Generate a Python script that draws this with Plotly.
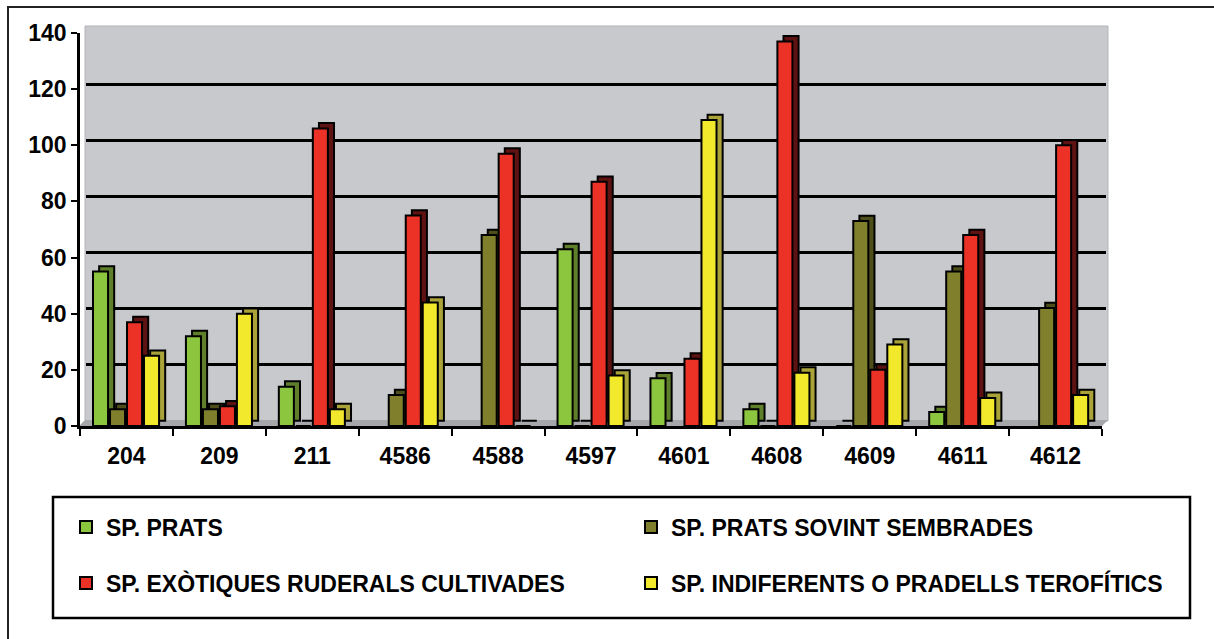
import plotly.graph_objects as go

# ---------------- data ----------------
categories = ["204", "209", "211", "4586", "4588", "4597", "4601", "4608", "4609", "4611", "4612"]
sp_prats = [55, 32, 14, None, None, 63, 17, 6, 0, 5, None]
sp_prats_sovint = [6, 6, 0, 11, 68, 0, None, 0, 73, 55, 42]
sp_exotiques = [37, 7, 106, 75, 97, 87, 24, 137, 20, 68, 100]
sp_indiferents = [25, 40, 6, 44, 0, 18, 109, 19, 29, 10, 11]

series_names = [
    "SP. PRATS",
    "SP. PRATS SOVINT SEMBRADES",
    "SP. EXÒTIQUES RUDERALS CULTIVADES",
    "SP. INDIFERENTS O PRADELLS TEROFÍTICS",
]
series_values = [sp_prats, sp_prats_sovint, sp_exotiques, sp_indiferents]
front_colors = ["#8cc63f", "#7f7f2c", "#ec3127", "#f2e82c"]
side_colors = ["#5f7f2a", "#4e4e1a", "#5e1212", "#a9a33a"]
y_ticks = [0, 20, 40, 60, 80, 100, 120, 140]
grid_vals = [20, 40, 60, 80, 100, 120]

# ---------------- geometry (pixels) ----------------
W, H = 1214, 639
ML, MR, MT, MB = 78, 104, 26, 213
PW = W - ML - MR  # 1032
PH = H - MT - MB  # 400


def px(x):
    return (x - ML) / PW


def py(y):
    return (H - MB - y) / PH


FONT = dict(family="Liberation Sans, Arial, sans-serif", size=23, color="black", weight="bold")

BAR_W = 0.162
PITCH = 0.183
START = -0.36
DEPTH_X = 0.066
DEPTH_Y = 1.9

fig = go.Figure()
# empty trace so that the back-wall grid subplot (x, y) is created
fig.add_trace(go.Scatter(x=[], y=[], xaxis="x", yaxis="y", showlegend=False, hoverinfo="skip"))

legend_ids = ["legend", "legend2", "legend3", "legend4"]
for i, (name, vals) in enumerate(zip(series_names, series_values)):
    off = START + i * PITCH
    # depth (side/top face) drawn behind the front face
    fig.add_trace(go.Bar(
        x=categories, y=vals, base=DEPTH_Y, offset=off + DEPTH_X, width=BAR_W,
        marker=dict(color=side_colors[i], line=dict(color="black", width=2)),
        xaxis="x2", yaxis="y2", showlegend=False, hoverinfo="skip",
    ))
    fig.add_trace(go.Bar(
        x=categories, y=vals, offset=off, width=BAR_W, name=name,
        marker=dict(color=front_colors[i], line=dict(color="black", width=2)),
        xaxis="x2", yaxis="y2", legend=legend_ids[i],
    ))

# legend positions (two columns, two rows)
leg_pos = [(66, 527), (631, 527), (66, 583), (631, 583)]
legends = {}
for lid, (lx, ly) in zip(legend_ids, leg_pos):
    legends[lid] = dict(x=px(lx), y=py(ly), xanchor="left", yanchor="middle",
                        font=FONT, bgcolor="rgba(0,0,0,0)", borderwidth=0)

shapes = [
    # back wall
    dict(type="rect", xref="paper", yref="paper", x0=px(85), x1=px(1108), y0=py(421), y1=py(26),
         fillcolor="#c8c9cc", line=dict(color="#b4b5b8", width=1), layer="below"),
    # floor
    dict(type="path", xref="paper", yref="paper",
         path=f"M{px(79)},{py(426)} L{px(1102)},{py(426)} L{px(1108)},{py(420)} L{px(85)},{py(420)} Z",
         fillcolor="#a6a7ab", line=dict(width=0), layer="below"),
    # legend box
    dict(type="rect", xref="paper", yref="paper", x0=px(53), x1=px(1190), y0=py(618), y1=py(497),
         fillcolor="rgba(0,0,0,0)", line=dict(color="black", width=2.5)),
    # outer frame
    dict(type="rect", xref="paper", yref="paper", x0=px(8), x1=px(1222), y0=py(650), y1=py(7),
         fillcolor="rgba(0,0,0,0)", line=dict(color="#222", width=2)),
]

fig.update_layout(
    width=W, height=H,
    margin=dict(l=ML, r=MR, t=MT, b=MB, pad=0),
    paper_bgcolor="white", plot_bgcolor="rgba(0,0,0,0)",
    barmode="overlay",
    font=FONT,
    shapes=shapes,
    # grid subplot (back wall, slightly shifted)
    xaxis=dict(domain=[px(86), px(1106)], anchor="y", range=[0, 1], showgrid=False,
               showticklabels=False, ticks="", showline=False, zeroline=False),
    yaxis=dict(domain=[py(421), py(28)], anchor="x", range=[0, 140], tickvals=grid_vals,
               showgrid=True, gridcolor="black", gridwidth=2.6, showticklabels=False,
               ticks="", showline=False, zeroline=False),
    # bars subplot
    xaxis2=dict(domain=[px(80), px(1102)], anchor="y2", type="category",
                categoryorder="array", categoryarray=categories, range=[-0.5, 10.5],
                tickson="boundaries", ticks="outside", ticklen=7, tickwidth=2, tickcolor="black",
                showline=True, linecolor="black", linewidth=2.5, showgrid=False,
                tickfont=FONT, ticklabelstandoff=8),
    yaxis2=dict(domain=[py(426), py(33)], anchor="x2", range=[0, 140], tickvals=y_ticks,
                ticks="outside", ticklen=6, tickwidth=2, tickcolor="black",
                showline=True, linecolor="black", linewidth=2.5, showgrid=False, zeroline=False,
                tickfont=FONT, ticklabelstandoff=0),
    showlegend=True,
    **legends,
)

fig.write_html("out.html", config={"displayModeBar": False},
               post_script="document.body.style.margin='0';")
